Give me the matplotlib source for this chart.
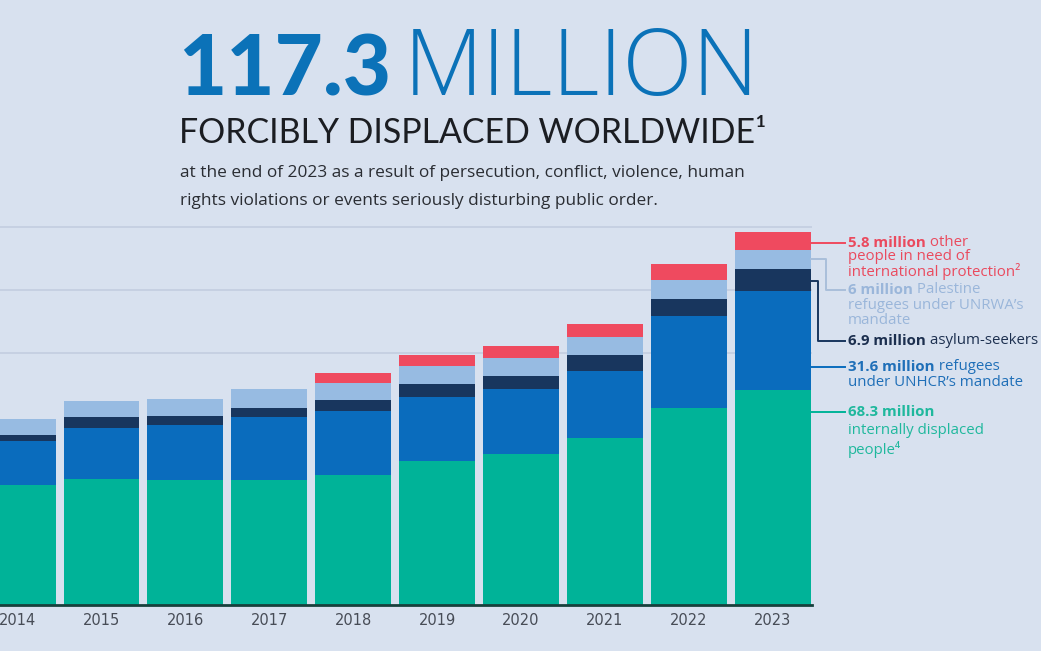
import matplotlib
matplotlib.use("Agg")
import matplotlib.pyplot as plt
import numpy as np

years = ["2014", "2015", "2016", "2017", "2018", "2019", "2020", "2021", "2022", "2023"]
idp = [38.0, 40.2, 39.7, 39.8, 41.3, 45.7, 48.0, 53.2, 62.5, 68.3]
refugees = [14.2, 16.2, 17.6, 19.9, 20.4, 20.4, 20.7, 21.3, 29.4, 31.6]
asylum = [1.9, 3.4, 2.7, 2.9, 3.5, 4.1, 4.1, 4.8, 5.4, 6.9]
palestine = [5.1, 5.1, 5.4, 6.0, 5.5, 5.6, 5.7, 5.8, 5.9, 6.0]
other = [0.0, 0.0, 0.0, 0.0, 2.9, 3.6, 3.9, 4.3, 5.1, 5.8]

series = [idp, refugees, asylum, palestine, other]
colors = ["#00b398", "#0a6cbd", "#18365e", "#97bbe2", "#ef4a5f"]
text_colors = ["#1fb89d", "#1f6fb8", "#1c2f4f", "#9ab6da", "#ea4a5e"]

BG = "#d8e1ef"
W, H = 1041, 651
fig = plt.figure(figsize=(W / 100, H / 100), dpi=100, facecolor=BG)

# axes placement in pixels
px_left, px_right, px_base, px_top = 0, 812, 605, 212
ax = fig.add_axes([px_left / W, (H - px_base) / H, (px_right - px_left) / W, (px_base - px_top) / H])
ax.set_facecolor(BG)

x = np.arange(len(years))
bottom = np.zeros(len(years))
for vals, c in zip(series, colors):
    v = np.array(vals)
    ax.bar(x, v, bottom=bottom, width=0.905, color=c, linewidth=0, zorder=3)
    bottom += v

ax.set_xlim(-0.21, 9.47)
ax.set_ylim(0, 124.9)
ax.set_yticks([80, 100, 120])
ax.yaxis.grid(True, color="#c3cde0", linewidth=1.2, zorder=0)
ax.tick_params(axis="y", left=False, labelleft=False)
ax.set_xticks(x)
ax.set_xticklabels(years, fontsize=10.5, color="#474c56", family=["DejaVu Sans"])
ax.tick_params(axis="x", length=0, pad=6)
for s in ["top", "right", "left"]:
    ax.spines[s].set_visible(False)
ax.spines["bottom"].set_color("#17403c")
ax.spines["bottom"].set_linewidth(2)
ax.spines["bottom"].set_zorder(4)

# leader lines and labels
LF = ["Open Sans", "DejaVu Sans"]
last = len(years) - 1
xr = last + 0.4525
x_text = 9.9
x_end = 9.865
cum = np.cumsum([s[last] for s in series])
lows = np.concatenate([[0], cum[:-1]])
mids = (lows + cum) / 2

labels = [
    ("68.3 million", "", ["internally displaced", "people\u2074"]),
    ("31.6 million", " refugees", ["under UNHCR\u2019s mandate"]),
    ("6.9 million", " asylum-seekers", []),
    ("6 million", " Palestine", ["refugees under UNRWA\u2019s", "mandate"]),
    ("5.8 million", " other", ["people in need of", "international protection\u00b2"]),
]
text_y = [61.3, 75.6, 84.0, 100.1, 115.1]
start_y = [61.3, 75.6, mids[2] - 0.5, mids[3] + 0.3, 115.1]
corner_x = [None, None, 9.54, 9.634, None]
FS = 10.8
line_gap = [5.9, 4.8, 0, 4.9, 4.5]
for i in range(5):
    c = colors[i]
    tc = text_colors[i]
    lc = c if i != 3 else "#a9bfda"
    if corner_x[i] is None:
        ax.plot([xr, x_end], [text_y[i], text_y[i]], color=lc, lw=1.4, clip_on=False, zorder=5)
    else:
        ax.plot([xr, corner_x[i], corner_x[i], x_end],
                [start_y[i], start_y[i], text_y[i], text_y[i]],
                color=lc, lw=1.4, clip_on=False, zorder=5)
    bold, rest, more = labels[i]
    t = ax.text(x_text, text_y[i], bold, color=tc, fontsize=FS, fontweight="bold",
                family=LF, va="center", ha="left", clip_on=False)
    if rest:
        ax.annotate(rest, xy=(1, 0), xycoords=t, va="bottom", ha="left", color=tc,
                    fontsize=FS, family=LF)
    for k, m in enumerate(more):
        ax.text(x_text, text_y[i] - line_gap[i] * (k + 1), m, color=tc, fontsize=FS,
                family=LF, va="center", ha="left", clip_on=False)

# headings
fig.text(178 / W, 1 - 95 / H, "117.3", fontsize=60, fontweight="black", color="#0b72b8",
         family=["Lato", "DejaVu Sans"], va="baseline", ha="left")
fig.text(404 / W, 1 - 95 / H, "MILLION", fontsize=66, fontweight="light", color="#0b72b8",
         family=["Open Sans", "DejaVu Sans"], va="baseline", ha="left")
fig.text(179 / W, 1 - 143 / H, "FORCIBLY DISPLACED WORLDWIDE\u00b9", fontsize=24.4, color="#1b1d22",
         family=["Lato", "DejaVu Sans"], va="baseline", ha="left")
fig.text(180 / W, 1 - 177 / H, "at the end of 2023 as a result of persecution, conflict, violence, human",
         fontsize=12.4, color="#2a2d33", family=["Open Sans", "DejaVu Sans"], va="baseline", ha="left")
fig.text(180 / W, 1 - 205 / H, "rights violations or events seriously disturbing public order.",
         fontsize=12.4, color="#2a2d33", family=["Open Sans", "DejaVu Sans"], va="baseline", ha="left")

fig.savefig("out.png", dpi=100, facecolor=BG)
